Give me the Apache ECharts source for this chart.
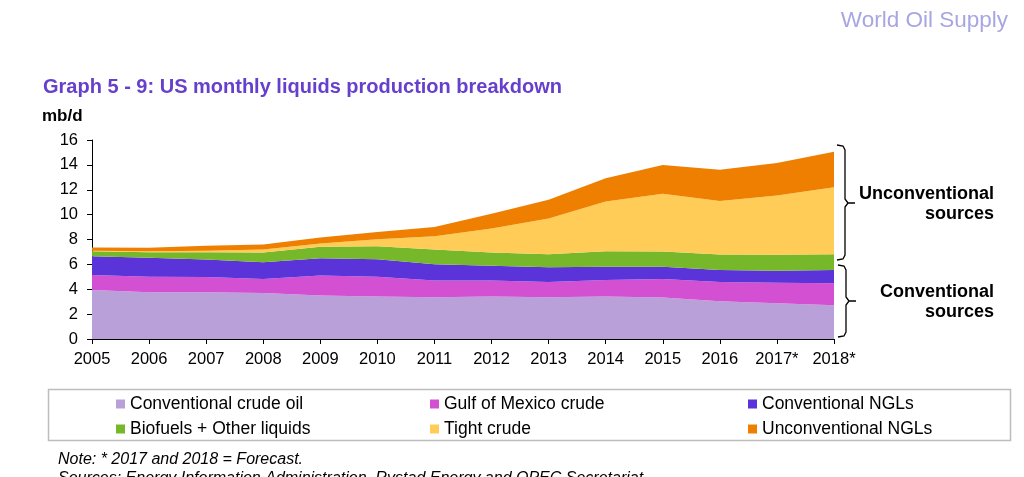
<!DOCTYPE html>
<html><head><meta charset="utf-8">
<script src="https://cdn.jsdelivr.net/npm/echarts@6/dist/echarts.min.js"></script>
<style>html,body{margin:0;padding:0;background:#fff}#c{width:1024px;height:477px}</style>
</head><body><div id="c"></div>
<script>
const years = ['2005','2006','2007','2008','2009','2010','2011','2012','2013','2014','2015','2016','2017*','2018*'];
const conventionalCrude = [3.94,3.76,3.75,3.70,3.50,3.41,3.35,3.41,3.35,3.41,3.33,3.04,2.88,2.72];
const gulfOfMexico     = [1.20,1.25,1.23,1.13,1.60,1.59,1.35,1.29,1.23,1.33,1.50,1.54,1.65,1.76];
const conventionalNGLs = [1.52,1.52,1.42,1.35,1.40,1.42,1.32,1.19,1.18,1.07,0.98,0.96,0.96,1.06];
const biofuelsOther    = [0.39,0.45,0.58,0.78,0.91,1.04,1.18,1.07,1.06,1.25,1.23,1.26,1.28,1.28];
const tightCrude       = [0.05,0.08,0.12,0.24,0.27,0.56,1.06,1.92,2.86,4.00,4.64,4.29,4.77,5.39];
const unconvNGLs       = [0.25,0.27,0.39,0.40,0.48,0.59,0.75,1.20,1.52,1.87,2.32,2.51,2.62,2.84];
const yTicks = [0,2,4,6,8,10,12,14,16];

const F = '"Liberation Sans", Arial, sans-serif';
const defs = [
  ['Conventional crude oil', conventionalCrude, '#B9A0D8'],
  ['Gulf of Mexico crude', gulfOfMexico, '#D450D2'],
  ['Conventional NGLs', conventionalNGLs, '#5A34D8'],
  ['Biofuels + Other liquids', biofuelsOther, '#77B82B'],
  ['Tight crude', tightCrude, '#FECC57'],
  ['Unconventional NGLs', unconvNGLs, '#EE7F00']
];
const series = defs.map(d => ({
  name: d[0], type: 'line', stack: 'all', data: d[1], symbol: 'none',
  lineStyle: {width: 0}, areaStyle: {color: d[2], opacity: 1}, itemStyle: {color: d[2]},
  emphasis: {disabled: true}
}));
const legendBase = {orient: 'vertical', icon: 'rect', itemWidth: 9, itemHeight: 9, itemGap: 7, padding: 0,
  textStyle: {fontFamily: F, fontSize: 17.5, lineHeight: 18, color: '#000'}, top: 395, selectedMode: false};
function bracket(x, y1, ym, y2) {
  return {type: 'polyline', shape: {points: [[x - 8, y1], [x - 2, y1 + 1], [x, y1 + 5], [x, ym - 4], [x + 3, ym], [x + 10, ym], [x + 3, ym], [x, ym + 4], [x, y2 - 5], [x - 2, y2 - 1], [x - 8, y2]]},
    style: {fill: 'none', stroke: '#000', lineWidth: 1.3}};
}
const chart = echarts.init(document.getElementById('c'));
chart.setOption({
  animation: false,
  grid: {left: 92, right: 190, top: 140, bottom: 138},
  xAxis: {type: 'category', data: years, boundaryGap: false,
    axisLine: {lineStyle: {color: '#000', width: 1}},
    axisTick: {alignWithLabel: true, length: 5, lineStyle: {color: '#000'}},
    axisLabel: {color: '#000', fontFamily: F, fontSize: 16.5, margin: 12, interval: 0}},
  yAxis: {type: 'value', min: 0, max: 16, interval: 2,
    axisLine: {show: true, lineStyle: {color: '#000'}},
    axisTick: {show: true, length: 5, lineStyle: {color: '#000'}},
    splitLine: {show: false},
    axisLabel: {color: '#000', fontFamily: F, fontSize: 16.5, margin: 14,
      formatter: v => yTicks.includes(v) ? String(v) : ''}},
  legend: [
    Object.assign({}, legendBase, {left: 116, data: [defs[0][0], defs[3][0]]}),
    Object.assign({}, legendBase, {left: 430, data: [defs[1][0], defs[4][0]]}),
    Object.assign({}, legendBase, {left: 748, data: [defs[2][0], defs[5][0]]})
  ],
  series: series,
  graphic: [
    {type: 'text', x: 1008, y: 9, style: {text: 'World Oil Supply', align: 'right', fontFamily: F, fontSize: 22.5, fill: '#A8A6E2'}},
    {type: 'text', x: 43, y: 77, style: {text: 'Graph 5 - 9: US monthly liquids production breakdown', fontFamily: F, fontSize: 20, fontWeight: 'bold', fill: '#6640CC'}},
    {type: 'text', x: 42, y: 108, style: {text: 'mb/d', fontFamily: F, fontSize: 17, fontWeight: 'bold', fill: '#000'}},
    {type: 'rect', shape: {x: 48.5, y: 389.5, width: 962, height: 51}, style: {fill: 'none', stroke: '#BDBDBD', lineWidth: 1.5}},
    bracket(845, 145, 203, 260),
    bracket(846, 265, 301, 337),
    {type: 'text', x: 994, y: 184, style: {text: 'Unconventional\nsources', align: 'right', fontFamily: F, fontSize: 18, fontWeight: 'bold', lineHeight: 20, fill: '#000'}},
    {type: 'text', x: 994, y: 282, style: {text: 'Conventional\nsources', align: 'right', fontFamily: F, fontSize: 18, fontWeight: 'bold', lineHeight: 20, fill: '#000'}},
    {type: 'text', x: 58, y: 452, style: {text: 'Note: * 2017 and 2018 = Forecast.', fontFamily: F, fontSize: 16, fontStyle: 'italic', fill: '#000'}},
    {type: 'text', x: 58, y: 471, style: {text: 'Sources: Energy Information Administration, Rystad Energy and OPEC Secretariat.', fontFamily: F, fontSize: 16, fontStyle: 'italic', fill: '#000'}}
  ]
});
</script></body></html>
